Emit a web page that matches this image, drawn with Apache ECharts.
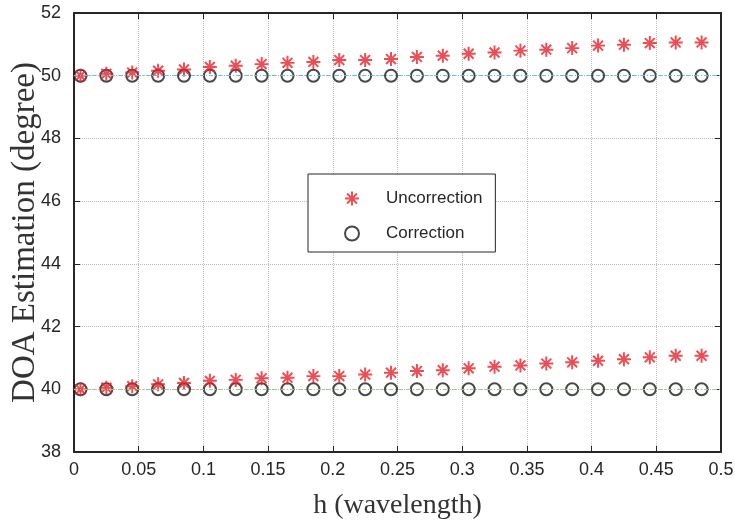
<!DOCTYPE html>
<html>
<head>
<meta charset="utf-8">
<title>DOA Estimation</title>
<script src="https://cdn.jsdelivr.net/npm/echarts@6/dist/echarts.min.js"></script>
<style>
  html, body { margin: 0; padding: 0; background: #fff; }
  #chart { width: 735px; height: 521px; }
</style>
</head>
<body>
<div id="chart"></div>
<script>
// data
const hValues = [0.005, 0.025, 0.045, 0.065, 0.085, 0.105, 0.125, 0.145, 0.165, 0.185, 0.205, 0.225, 0.245,
  0.265, 0.285, 0.305, 0.325, 0.345, 0.365, 0.385, 0.405, 0.425, 0.445, 0.465, 0.485]
const uncorrUpper = [50.0, 50.06, 50.1, 50.16, 50.2, 50.28, 50.32, 50.37, 50.41, 50.44, 50.5, 50.5, 50.53,
  50.6, 50.64, 50.7, 50.74, 50.8, 50.83, 50.88, 50.96, 50.99, 51.04, 51.06, 51.06]
const uncorrLower = [40.0, 40.05, 40.1, 40.16, 40.2, 40.27, 40.3, 40.35, 40.37, 40.42, 40.42, 40.47, 40.53,
  40.58, 40.61, 40.67, 40.72, 40.76, 40.82, 40.86, 40.91, 40.96, 41.02, 41.07, 41.07]
const corrUpper = [50, 50, 50, 50, 50, 50, 50, 50, 50, 50, 50, 50, 50,
  50, 50, 50, 50, 50, 50, 50, 50, 50, 50, 50, 50]
const corrLower = [40, 40, 40, 40, 40, 40, 40, 40, 40, 40, 40, 40, 40,
  40, 40, 40, 40, 40, 40, 40, 40, 40, 40, 40, 40]
const refLines = [50, 40]

// 样式
const starColor = '#e8202a'
const circleColor = '#1a1a1a'
const axisColor = '#262626'
const gridColor = '#bdbdbd'
const refColors = ['#62c3d9', '#9fcb80']

// asterisk = "+" and "x" made of thin bars, all wound the same way
const asterisk = 'path://M-1.4 -10L1.4 -10L1.4 10L-1.4 10Z' +
  'M-10 -1.4L10 -1.4L10 1.4L-10 1.4Z' +
  'M-6.08 -8.06L8.06 6.08L6.08 8.06L-8.06 -6.08Z' +
  'M-8.06 6.08L6.08 -8.06L8.06 -6.08L-6.08 8.06Z'

const pairs = (xs, ys) => xs.map((x, i) => [x, ys[i]])

const chart = echarts.init(document.getElementById('chart'))

const baseX = {
  type: 'value',
  min: 0,
  max: 0.5,
  interval: 0.05,
  axisLine: { show: true, onZero: false, lineStyle: { color: axisColor, width: 2 } },
  axisTick: { show: true, inside: true, length: 6, lineStyle: { color: axisColor, width: 1 } },
  splitLine: { show: false }
}
const baseY = {
  type: 'value',
  min: 38,
  max: 52,
  interval: 2,
  axisLine: { show: true, onZero: false, lineStyle: { color: axisColor, width: 2 } },
  axisTick: { show: true, inside: true, length: 6, lineStyle: { color: axisColor, width: 1 } },
  splitLine: { show: false }
}

const option = {
  animation: false,
  backgroundColor: '#fff',
  grid: { left: 74, right: 14, top: 13, bottom: 69, containLabel: false, outerBoundsMode: 'none' },
  legend: {
    orient: 'vertical',
    left: 308,
    top: 174,
    padding: [16, 13, 10, 36],
    itemGap: 18,
    itemWidth: 14,
    itemHeight: 14,
    backgroundColor: '#fff',
    borderColor: axisColor,
    borderWidth: 1,
    borderRadius: 0,
    data: [
      { name: 'Uncorrection', icon: asterisk, itemStyle: { color: starColor } },
      { name: 'Correction', icon: 'emptyCircle', itemStyle: { color: circleColor, borderWidth: 1.5 } }
    ],
    textStyle: {
      fontFamily: 'Liberation Sans',
      fontSize: 17,
      color: '#262626',
      lineHeight: 14,
      padding: [0, 0, 0, 22]
    }
  },
  xAxis: [
    Object.assign({}, baseX, {
      position: 'bottom',
      name: 'h (wavelength)',
      nameLocation: 'middle',
      nameGap: 40,
      nameMoveOverlap: false,
      nameTextStyle: { fontFamily: 'Liberation Serif', fontSize: 28, color: '#333' },
      axisLabel: { color: '#262626', fontFamily: 'Liberation Sans', fontSize: 18, margin: 9 },
      splitLine: { show: true, lineStyle: { color: gridColor, type: 'dotted', width: 1 } }
    }),
    Object.assign({}, baseX, { position: 'top', axisLabel: { show: false } })
  ],
  yAxis: [
    Object.assign({}, baseY, {
      position: 'left',
      name: 'DOA Estimation (degree)',
      nameLocation: 'middle',
      nameGap: 32,
      nameMoveOverlap: false,
      nameTextStyle: { fontFamily: 'Liberation Serif', fontSize: 33, color: '#333' },
      axisLabel: { color: '#262626', fontFamily: 'Liberation Sans', fontSize: 18, margin: 13 },
      splitLine: { show: true, lineStyle: { color: gridColor, type: 'dotted', width: 1 } }
    }),
    Object.assign({}, baseY, { position: 'right', axisLabel: { show: false } })
  ],
  series: [
    {
      name: 'Correction',
      type: 'scatter',
      symbol: 'emptyCircle',
      symbolSize: 12,
      itemStyle: { color: circleColor, borderWidth: 1.6 },
      data: pairs(hValues, corrUpper).concat(pairs(hValues, corrLower)),
      markLine: {
        silent: true,
        symbol: 'none',
        label: { show: false },
        data: refLines.map((v, i) => ({
          yAxis: v,
          lineStyle: { color: refColors[i], type: [4, 2, 1, 2], width: 1 }
        }))
      },
      z: 3
    },
    {
      name: 'Uncorrection',
      type: 'scatter',
      symbol: asterisk,
      symbolSize: 14,
      itemStyle: { color: starColor },
      data: pairs(hValues, uncorrUpper).concat(pairs(hValues, uncorrLower)),
      z: 4
    }
  ]
}

chart.setOption(option)
</script>
</body>
</html>
